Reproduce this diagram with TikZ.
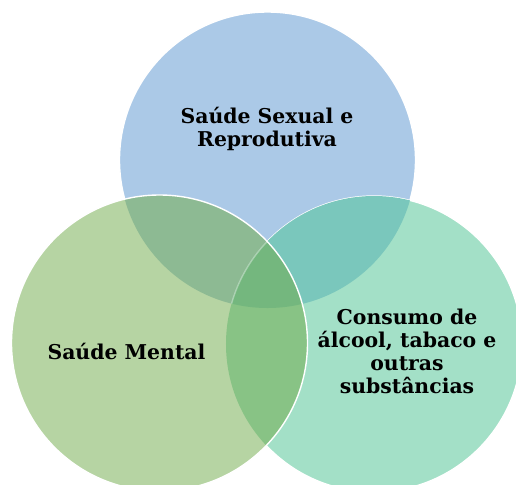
\documentclass[tikz,border=0pt]{standalone}
\usepackage{fontspec}
\setmainfont{DejaVu Serif}
\usepackage{tikz}
\usetikzlibrary{positioning}

\definecolor{topblue}{HTML}{ABC9E7}
\definecolor{leftgreen}{HTML}{B6D4A3}
\definecolor{rightgreen}{HTML}{A3E0C7}
\definecolor{topleft}{HTML}{8DBA93}
\definecolor{topright}{HTML}{7AC7BC}
\definecolor{leftright}{HTML}{88C385}
\definecolor{allthree}{HTML}{74B77E}

\tikzset{
  label text/.style={font=\bfseries\fontsize{10.2}{11.5}\selectfont, align=center, text=black, inner sep=0pt},
  rim/.style={white, line width=0.7pt}
}

\begin{document}
\begin{tikzpicture}[x=0.5pt, y=-0.5pt]
  \useasboundingbox (0,0) rectangle (516,484);
  \coordinate (sexual) at (267.5,160);
  \coordinate (mental) at (159.5,343);
  \coordinate (consumo) at (374,344);

  % single circles
  \fill[topblue] (sexual) circle[radius=74pt];
  \draw[rim] (sexual) circle[radius=74pt];
  \fill[rightgreen] (consumo) circle[radius=74pt];
  \draw[rim] (consumo) circle[radius=74pt];
  \fill[leftgreen] (mental) circle[radius=74pt];
  % overlaps
  \begin{scope}
    \clip (sexual) circle[radius=74pt];
    \fill[topleft] (mental) circle[radius=74pt];
    \fill[topright] (consumo) circle[radius=74pt];
  \end{scope}
  \begin{scope}
    \clip (mental) circle[radius=74pt];
    \fill[leftright] (consumo) circle[radius=74pt];
    \clip (sexual) circle[radius=74pt];
    \fill[allthree] (consumo) circle[radius=74pt];
    \draw[rim, opacity=0.35] (consumo) circle[radius=74pt];
  \end{scope}
  \draw[rim] (mental) circle[radius=74pt];

  % labels
  \node[label text] (t-sexual) at (267,129) {Saúde Sexual e\\Reprodutiva};
  \node[label text] (t-mental) at (126.5,351) {Saúde Mental};
  \node[label text] (t-consumo) at (407,351.5) {Consumo de\\álcool, tabaco e\\outras\\substâncias};
\end{tikzpicture}
\end{document}
